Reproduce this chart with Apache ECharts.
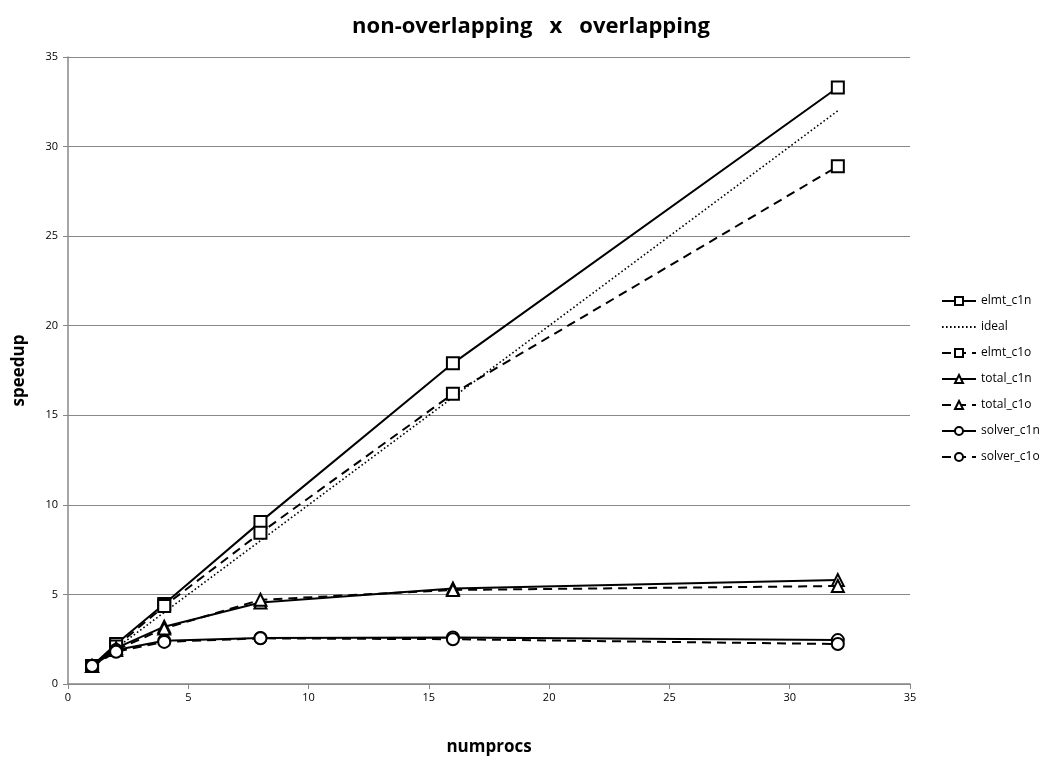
<!DOCTYPE html>
<html><head><meta charset="utf-8">
<script src="https://cdn.jsdelivr.net/npm/echarts@6/dist/echarts.min.js"></script>
<style>html,body{margin:0;padding:0;background:#fff}#c{width:1062px;height:761px}</style>
</head><body><div id="c"></div>
<script>
var procs = [1, 2, 4, 8, 16, 32];
var elmt_c1n = [1, 2.23, 4.46, 9.05, 17.9, 33.3];
var ideal = [1, 2, 4, 8, 16, 32];
var elmt_c1o = [1, 2.1, 4.35, 8.44, 16.2, 28.9];
var total_c1n = [1, 2.0, 3.2, 4.55, 5.33, 5.8];
var total_c1o = [1, 1.9, 3.1, 4.7, 5.25, 5.47];
var solver_c1n = [1, 1.9, 2.42, 2.57, 2.6, 2.45];
var solver_c1o = [1, 1.8, 2.35, 2.55, 2.5, 2.23];
var xTicks = [0, 5, 10, 15, 20, 25, 30, 35];
var yTicks = [0, 5, 10, 15, 20, 25, 30, 35];

function pairs(v){ return procs.map(function(p,i){ return [p, v[i]]; }); }
function mk(name, vals, symbol, dashed, size){
  return {
    name: name, type: 'line', data: pairs(vals),
    symbol: symbol, symbolSize: size, showSymbol: true,
    lineStyle: {color: '#000', width: 2, type: dashed ? [9,6] : 'solid'},
    itemStyle: {color: '#fff', borderColor: '#000', borderWidth: 2},
    emphasis: {disabled: true}, animation: false
  };
}
var series = [
  mk('elmt_c1n', elmt_c1n, 'rect', false, 12),
  {name:'ideal', type:'line', data: pairs(ideal), symbol:'none', symbolSize:0, showSymbol:false,
   lineStyle:{color:'#000', width:1.6, type:[1.6,2.4]}, itemStyle:{color:'#000', opacity:0},
   emphasis:{disabled:true}, animation:false},
  mk('elmt_c1o', elmt_c1o, 'rect', true, 12),
  mk('total_c1n', total_c1n, 'triangle', false, 12),
  mk('total_c1o', total_c1o, 'triangle', true, 12),
  mk('solver_c1n', solver_c1n, 'circle', false, 12),
  mk('solver_c1o', solver_c1o, 'circle', true, 12)
];
var chart = echarts.init(document.getElementById('c'));
chart.setOption({
  backgroundColor: '#fff',
  title: {text: 'non-overlapping   x   overlapping', left: 'center', top: 11,
    textStyle: {fontFamily: 'Open Sans', fontWeight: 'bold', fontSize: 22, color: '#000'}},
  grid: {left: 68, right: 152, top: 57, bottom: 77},
  legend: {orient: 'vertical', left: 936, top: 290, itemGap: 14, itemWidth: 34, itemHeight: 10,
    textStyle: {fontFamily: 'Open Sans', fontSize: 12, color: '#000'},
    data: series.map(function(s){return s.name;})},
  xAxis: {type: 'value', min: 0, max: 35, interval: 5, name: 'numprocs', nameLocation: 'middle', nameGap: 55,
    nameTextStyle: {fontFamily: 'Open Sans', fontWeight: 'bold', fontSize: 17, color: '#000'},
    axisLine: {lineStyle: {color: '#888', width: 1.5}}, axisTick: {show: true, length: 5, lineStyle: {color: '#888'}},
    axisLabel: {fontFamily: 'Open Sans', fontSize: 11, color: '#000', margin: 8}, splitLine: {show: false}},
  yAxis: {type: 'value', min: 0, max: 35, interval: 5, name: 'speedup', nameLocation: 'middle', nameGap: 40,
    nameTextStyle: {fontFamily: 'Open Sans', fontWeight: 'bold', fontSize: 17, color: '#000'},
    axisLine: {show: true, lineStyle: {color: '#888', width: 1.5}}, axisTick: {show: true, length: 5, lineStyle: {color: '#888'}},
    axisLabel: {fontFamily: 'Open Sans', fontSize: 11, color: '#000', margin: 10},
    splitLine: {show: true, lineStyle: {color: '#888', width: 1}}},
  series: series
});
</script></body></html>
